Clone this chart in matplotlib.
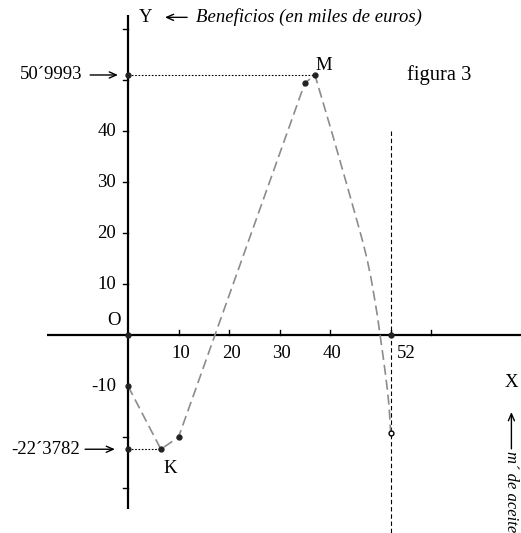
import matplotlib.pyplot as plt
import numpy as np

# curve B(x): beneficios (miles de euros) vs m3 de aceite
curve_x = [0, 6.5, 10, 35, 37, 40.4, 43.8, 45.5, 46.5, 47.3, 48.1, 48.8, 49.4,
           49.9, 50.5, 51.0, 51.4, 51.7, 52]
curve_y = [-10, -22.3782, -20, 49.4, 50.9993, 39.6, 27.8, 21.8, 18.2, 15.0, 11.2, 7.2, 3.6,
           0, -4.2, -7.9, -11.2, -14.2, -19.2]

# highlighted points
dot_x = [0, 0, 6.5, 10, 35, 37, 52, 0, 0]
dot_y = [0, -10, -22.3782, -20, 49.4, 50.9993, 0, 50.9993, -22.3782]
end_pt = (52, -19.2)

x_ticks = [10, 20, 30, 40, 52, 60]
x_labels = ['10', '20', '30', '40']
y_ticks = [-30, -20, 10, 20, 30, 40, 50, 60]
y_labels = ['10', '20', '30', '40']

max_label = '50\u00b49993'
min_label = '-22\u00b43782'

serif = ['Liberation Serif', 'DejaVu Serif']
plt.rcParams['font.family'] = serif

fig = plt.figure(figsize=(5.21, 5.33), dpi=100)
ax = fig.add_axes([0, 0, 1, 1])
ax.set_xlim(-25.35, 77.8)
ax.set_ylim(-38.8, 65.7)
ax.axis('off')

# axes lines
ax.plot([-16, 78], [0, 0], color='black', lw=1.6, solid_capstyle='butt')
ax.plot([0, 0], [-34, 62.7], color='black', lw=1.6, solid_capstyle='butt')

# tick marks
for t in x_ticks:
    ax.plot([t, t], [0, 1.0], color='black', lw=1.0)
for t in y_ticks:
    ax.plot([-0.9, 0], [t, t], color='black', lw=1.0)

# guides
ax.plot([0, 37], [50.9993, 50.9993], color='black', lw=0.8, ls=(0, (1.5, 1.5)))
ax.plot([0, 6.5], [-22.3782, -22.3782], color='black', lw=0.8, ls=(0, (1.5, 1.5)))
ax.plot([52, 52], [40, -39], color='black', lw=0.8, ls=(0, (4, 2.5)))

# curve
ax.plot(curve_x, curve_y, color='#8c8c8c', lw=1.2, ls=(0, (6, 3)))
ax.plot(dot_x, dot_y, 'o', color='#222222', ms=3.5, ls='none')
ax.plot(*end_pt, 'o', mfc='white', mec='black', ms=3.5, mew=1.0)

fs = 13.5
arrow = dict(arrowstyle='->, head_length=0.5, head_width=0.22', color='black', lw=1.0,
             shrinkA=0, shrinkB=0)

for t, lab in zip([10, 20, 30, 40], x_labels):
    ax.text(t + 0.4, -2.0, lab, ha='center', va='top', fontsize=fs)
ax.text(53.3, -2.0, '52', ha='left', va='top', fontsize=fs)
for t, lab in zip([10, 20, 30, 40], y_labels):
    ax.text(-2.4, t, lab, ha='right', va='center', fontsize=fs)
ax.text(-2.4, -10, '-10', ha='right', va='center', fontsize=fs)

ax.text(-9.1, 50.9993, max_label, ha='right', va='center', fontsize=fs)
ax.annotate('', xy=(-2.0, 50.9993), xytext=(-7.5, 50.9993), arrowprops=arrow)
ax.text(-9.5, -22.3782, min_label, ha='right', va='center', fontsize=fs)
ax.annotate('', xy=(-2.6, -22.3782), xytext=(-8.5, -22.3782), arrowprops=arrow)

ax.text(-1.5, 1.2, 'O', ha='right', va='bottom', fontsize=fs)
ax.text(38.8, 52.9, 'M', ha='center', va='center', fontsize=fs)
ax.text(8.3, -24.5, 'K', ha='center', va='top', fontsize=fs)
ax.text(55.3, 50.9, 'figura 3', ha='left', va='center', fontsize=14.8)

ax.text(2.2, 62.3, 'Y', ha='left', va='center', fontsize=fs)
ax.annotate('', xy=(7.3, 62.3), xytext=(11.7, 62.3), arrowprops=arrow)
ax.text(13.5, 62.3, 'Beneficios (en miles de euros)', ha='left', va='center',
        fontsize=fs, style='italic')

ax.text(75.9, -9.2, 'X', ha='center', va='center', fontsize=fs)
ax.annotate('', xy=(75.9, -15.1), xytext=(75.9, -22.3), arrowprops=arrow)
ax.text(75.9, -22.7, 'm\u00b4 de aceite', ha='center', va='top',
        rotation=-90, fontsize=12, style='italic')

fig.savefig('out.png', dpi=100)
